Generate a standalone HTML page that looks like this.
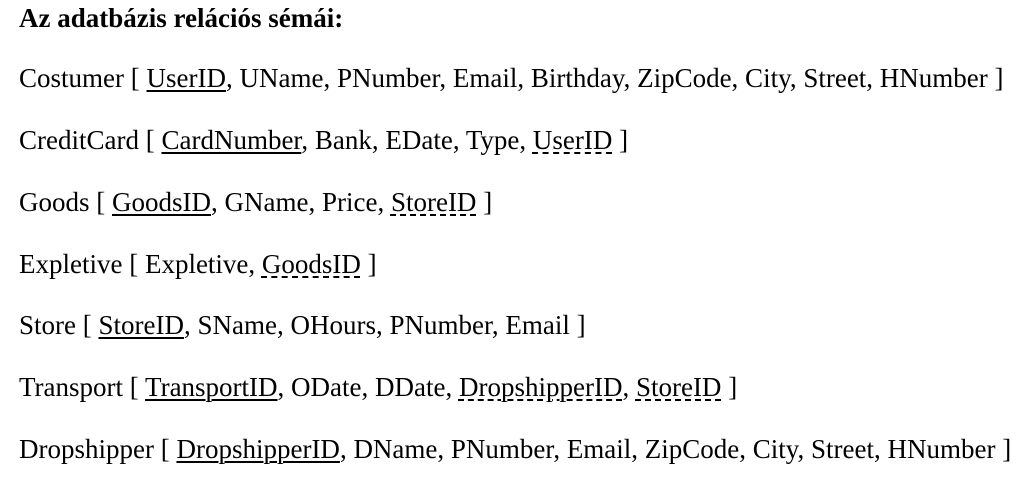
<!DOCTYPE html>
<html><head><meta charset="utf-8"><style>
html,body{margin:0;padding:0;background:#fff;width:1023px;height:478px;overflow:hidden}
body{font-family:"Liberation Serif",serif;font-size:27px;color:#000;position:relative}
.l{position:absolute;left:19px;white-space:nowrap;line-height:1}
u{text-decoration:underline;text-decoration-thickness:2px;text-underline-offset:3px}
u.d{text-decoration-style:dashed}
b{font-weight:bold}
</style></head><body>
<div class="l" style="top:5px"><b>Az adatbázis relációs sémái:</b></div>
<div class="l" style="top:65px">Costumer [ <u>UserID</u>, UName, PNumber, Email, Birthday, ZipCode, City, Street, HNumber ]</div>
<div class="l" style="top:127px">CreditCard [ <u>CardNumber</u>, Bank, EDate, Type, <u class="d">UserID</u> ]</div>
<div class="l" style="top:189px">Goods [ <u>GoodsID</u>, GName, Price, <u class="d">StoreID</u> ]</div>
<div class="l" style="top:251px">Expletive [ Expletive, <u class="d">GoodsID</u> ]</div>
<div class="l" style="top:312px">Store [ <u>StoreID</u>, SName, OHours, PNumber, Email ]</div>
<div class="l" style="top:374px">Transport [ <u>TransportID</u>, ODate, DDate, <u class="d">DropshipperID</u>, <u class="d">StoreID</u> ]</div>
<div class="l" style="top:436px">Dropshipper [ <u>DropshipperID</u>, DName, PNumber, Email, ZipCode, City, Street, HNumber ]</div>
</body></html>
